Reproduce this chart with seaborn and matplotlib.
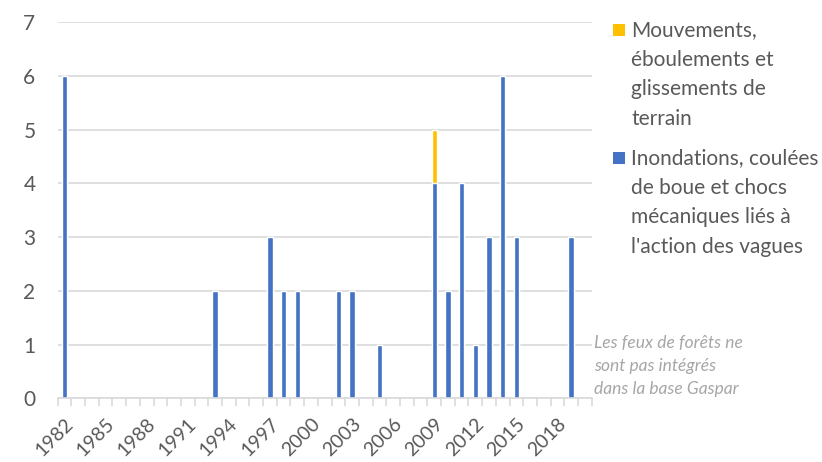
import pandas as pd
import matplotlib.pyplot as plt
import seaborn as sns
from matplotlib.patches import Rectangle

# ---- Data ----
years = list(range(1982, 2021))
inondations = [6, 0, 0, 0, 0, 0, 0, 0, 0, 0, 0, 2, 0, 0, 0, 3, 2, 2, 0, 0,
               2, 2, 0, 1, 0, 0, 0, 4, 2, 4, 1, 3, 6, 3, 0, 0, 0, 3, 0]
mouvements = [0] * 27 + [1] + [0] * 11
label_mouv = "Mouvements,\néboulements et\nglissements de\nterrain"
label_inond = "Inondations, coulées\nde boue et chocs\nmécaniques liés à\nl'action des vagues"
note = "Les feux de forêts ne\nsont pas intégrés\ndans la base Gaspar"

df = pd.DataFrame({"Année": [str(y) for y in years],
                   "Inondations": inondations,
                   "Mouvements": mouvements})
df["Total"] = df["Inondations"] + df["Mouvements"]

blue = "#4472C4"
yellow = "#FFC000"
grey_text = "#595959"
grid_col = "#D9D9D9"

sns.set_style("white")
plt.rcParams["font.family"] = ["Lato", "DejaVu Sans"]

W, H = 822, 462
fig = plt.figure(figsize=(W / 100, H / 100), dpi=100)
ax = fig.add_axes([0.0702, 0.1379, 0.6496, 0.8138])

order = [str(y) for y in years]
# stacked bars: total in yellow, inondations drawn over it in blue
sns.barplot(data=df, x="Année", y="Total", order=order, color=yellow,
            width=0.39, saturation=1, ax=ax)
sns.barplot(data=df, x="Année", y="Inondations", order=order, color=blue,
            width=0.39, saturation=1, ax=ax)

ax.set_ylim(0, 7)
ax.set_xlim(-0.5, len(years) - 0.5)
ax.set_yticks(range(0, 8))
ax.yaxis.grid(True, color=grid_col, linewidth=1.2)
ax.set_axisbelow(True)
ax.set_xlabel("")
ax.set_ylabel("")

# labels every 3 years, tick marks between categories
ax.set_xticks(range(0, len(years), 3))
ax.set_xticklabels(order[::3], rotation=45, ha="right", rotation_mode="anchor")
ax.set_xticks([i - 0.5 for i in range(len(years) + 1)], minor=True)
ax.tick_params(axis="x", which="major", bottom=True, length=0, pad=12,
               labelsize=14, labelcolor=grey_text)
ax.tick_params(axis="x", which="minor", bottom=True, length=6, width=1.2,
               color=grid_col, direction="out")
ax.tick_params(axis="y", length=0, pad=16, labelsize=15, labelcolor=grey_text)

for s in ["top", "right", "left"]:
    ax.spines[s].set_visible(False)
ax.spines["bottom"].set_color(grid_col)
ax.spines["bottom"].set_linewidth(1.2)

# legend, drawn by hand so squares sit on the first line of each label
sq = 12
for color, label, top in [(yellow, label_mouv, 24), (blue, label_inond, 152)]:
    fig.add_artist(Rectangle((613 / W, 1 - (top + sq) / H), sq / W, sq / H,
                             facecolor=color, edgecolor="none",
                             transform=fig.transFigure))
    fig.text(631 / W, 1 - (top - 4) / H, label, ha="left", va="top",
             fontsize=15, color=grey_text, linespacing=1.6)

fig.text(594 / W, 1 - 335 / H, note, ha="left", va="top", fontsize=12.5,
         style="italic", color="#A6A6A6", linespacing=1.55)

fig.savefig("out.png", dpi=100)
